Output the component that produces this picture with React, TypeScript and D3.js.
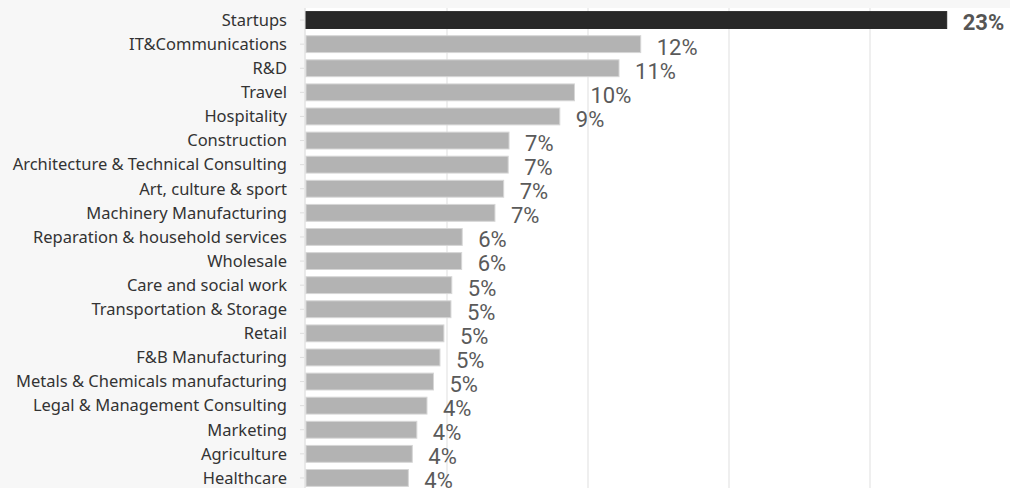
import React from "react";
import * as d3 from "d3";

const categories: string[] = [
  "Startups",
  "IT&Communications",
  "R&D",
  "Travel",
  "Hospitality",
  "Construction",
  "Architecture & Technical Consulting",
  "Art, culture & sport",
  "Machinery Manufacturing",
  "Reparation & household services",
  "Wholesale",
  "Care and social work",
  "Transportation & Storage",
  "Retail",
  "F&B Manufacturing",
  "Metals & Chemicals manufacturing",
  "Legal & Management Consulting",
  "Marketing",
  "Agriculture",
  "Healthcare",
];

// share in percent
const values: number[] = [
  22.72, 11.87, 11.1, 9.52, 9.0, 7.2, 7.17, 7.01, 6.7, 5.54, 5.52, 5.17, 5.14,
  4.89, 4.75, 4.52, 4.29, 3.93, 3.77, 3.63,
];

const highlighted: string[] = ["Startups"];
const gridTicks: number[] = [5, 10, 15, 20];

const W = 1010;
const H = 488;
const PLOT_LEFT = 305;
const PLOT_TOP = 8;

export default function App() {
  const x = d3.scaleLinear().domain([0, 25]).range([306, 306 + 25 * 28.2]);
  const y = d3
    .scaleBand<string>()
    .domain(categories)
    .range([PLOT_TOP, PLOT_TOP + 20 * 24.1])
    .paddingInner(0.3)
    .paddingOuter(0.15);

  const fmt = (v: number) => `${Math.round(v)}%`;

  return (
    <svg
      width={W}
      height={H}
      style={{ position: "absolute", left: 0, top: 0, display: "block" }}
    >
      <rect x={0} y={0} width={W} height={H} fill="#f7f7f7" />
      <rect x={PLOT_LEFT} y={PLOT_TOP} width={W - PLOT_LEFT} height={H - PLOT_TOP} fill="#ffffff" />
      {gridTicks.map((t) => (
        <line
          key={t}
          x1={x(t)}
          x2={x(t)}
          y1={PLOT_TOP}
          y2={H}
          stroke="#efefef"
          strokeWidth={2}
        />
      ))}
      <line x1={PLOT_LEFT} x2={PLOT_LEFT} y1={PLOT_TOP} y2={H} stroke="#e3e3e3" strokeWidth={1.5} />
      {categories.map((c, i) => {
        const yb = y(c)!;
        const bw = y.bandwidth();
        const hl = highlighted.includes(c);
        return (
          <g key={c}>
            <line
              x1={300}
              x2={304}
              y1={yb + bw / 2}
              y2={yb + bw / 2}
              stroke="#dddddd"
              strokeWidth={1}
            />
            <text
              x={287}
              y={yb + bw / 2}
              dy="0.35em"
              textAnchor="end"
              fontFamily="'Noto Sans', sans-serif"
              fontSize={16.5}
              fill="#333333"
            >
              {c}
            </text>
            <rect
              x={x(0)}
              y={yb}
              width={x(values[i]) - x(0)}
              height={bw}
              fill={hl ? "#282828" : "#b3b3b3"}
              stroke={hl ? "#282828" : "#d6d6d6"}
              strokeWidth={1}
            />
            <text
              x={x(values[i]) + 16}
              y={yb + bw + 2}
              fontFamily="Roboto, sans-serif"
              fontSize={22}
              fontWeight={hl ? 700 : 400}
              fill={hl ? "#555555" : "#5a5a5a"}
            >
              {fmt(values[i])}
            </text>
          </g>
        );
      })}
    </svg>
  );
}
